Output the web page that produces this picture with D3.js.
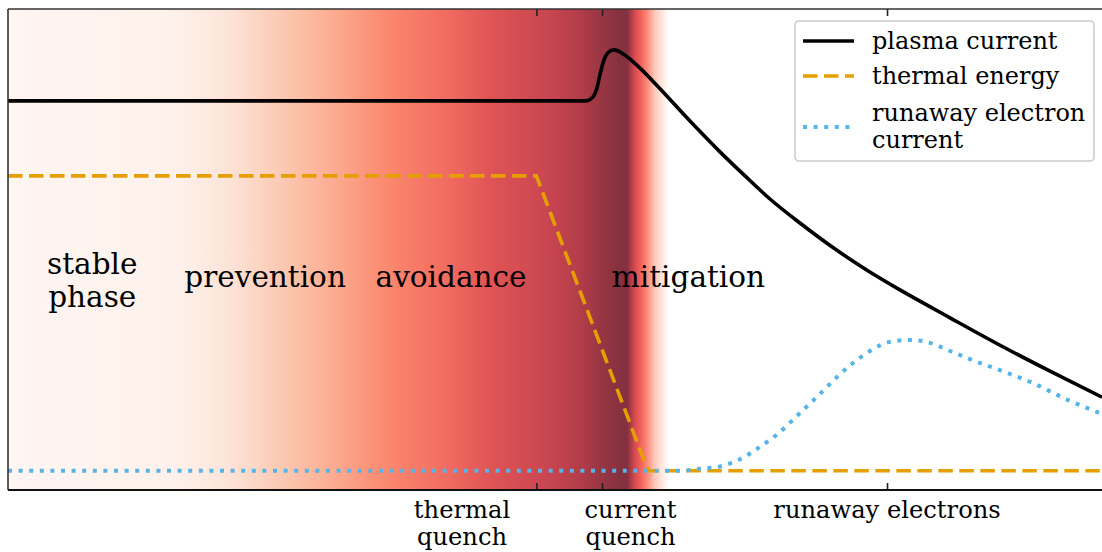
<!DOCTYPE html>
<html>
<head>
<meta charset="utf-8">
<script src="https://cdn.jsdelivr.net/npm/d3@7"></script>
<style>
  html, body { margin: 0; padding: 0; background: #fff; }
  svg { display: block; }
  text { font-family: "DejaVu Serif", serif; fill: #000; }
</style>
</head>
<body>
<svg id="chart" width="1102" height="552"></svg>
<script>
// Time axis runs 0..10 (arbitrary units); signals are normalised 0..1.
const plasmaT = [0, 5.283, 5.338, 5.384, 5.411, 5.448, 5.484, 5.539, 5.640, 5.777, 5.960, 6.234, 6.508, 6.737, 6.965, 7.239, 7.541, 7.852, 8.154, 8.611, 9.068, 9.525, 10.0];
const plasmaI = [0.809, 0.809, 0.815, 0.836, 0.863, 0.894, 0.909, 0.915, 0.904, 0.877, 0.834, 0.767, 0.703, 0.653, 0.605, 0.555, 0.504, 0.457, 0.416, 0.358, 0.301, 0.247, 0.193];

const thermalT = [0, 4.83, 5.85, 10.0];
const thermalW = [0.653, 0.653, 0.040, 0.040];

const runawayT = [0, 6.143, 6.325, 6.508, 6.691, 6.856, 7.011, 7.239, 7.441, 7.578, 7.724, 7.879, 8.062, 8.245, 8.428, 8.611, 8.793, 9.068, 9.342, 9.689, 10.0];
const runawayI = [0.040, 0.040, 0.044, 0.049, 0.064, 0.087, 0.112, 0.160, 0.204, 0.235, 0.264, 0.289, 0.308, 0.312, 0.306, 0.289, 0.272, 0.249, 0.225, 0.187, 0.158];

// Event ticks and their labels
const tickTimes = [4.83, 5.43, 8.035];
const tickLabels = [["thermal", "quench"], ["current", "quench"], ["runaway electrons"]];
const tickLabelTimes = [4.15, 5.69, 8.035];

// Phase labels across the shaded band
const phaseLabels = [["stable", "phase"], ["prevention"], ["avoidance"], ["mitigation"]];
const phaseTimes = [0.77, 2.35, 4.05, 6.22];
const phaseLevels = [0.437, 0.443, 0.443, 0.443];

// Background colour band along time
const bandTimes = [0, 1.55, 2.03, 2.30, 2.67, 3.03, 3.31, 3.58, 4.04, 4.40, 4.95, 5.23, 5.41, 5.59, 5.66, 5.73, 5.78, 5.85, 5.91, 6.00, 6.05];
const bandColors = ["#fff5f1", "#fef1eb", "#fde3d7", "#fcd4c2", "#fcbfa6", "#fca88d", "#fb9378", "#f9826a", "#f06a60", "#e05555", "#c84550", "#b23d48", "#9a3644", "#86313f", "#84303f", "#d84a50", "#f06058", "#fc9080", "#fdc8b8", "#fff0ea", "#ffffff"];

const legendNames = [["plasma current"], ["thermal energy"], ["runaway electron", "current"]];

const W = 1102, H = 552;
const plot = { left: 8, top: 9, right: 1102, bottom: 490 };

const svg = d3.select("#chart");
const x = d3.scaleLinear().domain([0, 10]).range([plot.left, plot.right]);
const y = d3.scaleLinear().domain([0, 1]).range([plot.bottom, plot.top]);

const defs = svg.append("defs");
const span = bandTimes[bandTimes.length - 1];
const grad = defs.append("linearGradient")
  .attr("id", "phaseBand")
  .attr("gradientUnits", "userSpaceOnUse")
  .attr("x1", x(0)).attr("x2", x(span))
  .attr("y1", 0).attr("y2", 0);
grad.selectAll("stop").data(bandTimes).join("stop")
  .attr("offset", d => d / span)
  .attr("stop-color", (d, i) => bandColors[i]);

defs.append("clipPath").attr("id", "plotClip")
  .append("rect")
  .attr("x", plot.left).attr("y", plot.top)
  .attr("width", plot.right - plot.left).attr("height", plot.bottom - plot.top);

// shaded band
svg.append("rect")
  .attr("x", x(0)).attr("y", y(1))
  .attr("width", x(span) - x(0)).attr("height", y(0) - y(1))
  .attr("fill", "url(#phaseBand)");

// phase labels
const fsPhase = 29.5;
phaseLabels.forEach((lines, i) => {
  const t = svg.append("text")
    .attr("text-anchor", "middle")
    .attr("font-size", fsPhase);
  const n = lines.length;
  lines.forEach((s, k) => {
    t.append("tspan")
      .attr("x", x(phaseTimes[i]))
      .attr("y", y(phaseLevels[i]) + (k - (n - 1) / 2) * 33 + fsPhase * 0.35)
      .text(s);
  });
});

// signals
const g = svg.append("g").attr("clip-path", "url(#plotClip)");
const line = d3.line().x(d => x(d[0])).y(d => y(d[1]));

const series = [
  { t: plasmaT, v: plasmaI, color: "#000000", width: 3.6, dash: null, curve: d3.curveMonotoneX },
  { t: thermalT, v: thermalW, color: "#e69f00", width: 3.6, dash: "14.5,6.5", curve: d3.curveLinear },
  { t: runawayT, v: runawayI, color: "#56b4e9", width: 4, dash: "4,6.6", curve: d3.curveMonotoneX }
];
series.forEach(s => {
  const pts = s.t.map((t, i) => [t, s.v[i]]);
  g.append("path")
    .attr("d", line.curve(s.curve)(pts))
    .attr("fill", "none")
    .attr("stroke", s.color)
    .attr("stroke-width", s.width)
    .attr("stroke-dasharray", s.dash);
});

// axes: inward ticks on bottom and top, no numeric labels
const axBottom = d3.axisBottom(x).tickValues(tickTimes).tickSize(-7).tickFormat("");
const axTop = d3.axisTop(x).tickValues(tickTimes).tickSize(-7).tickFormat("");
const gb = svg.append("g").attr("transform", `translate(0,${plot.bottom})`).call(axBottom);
const gt = svg.append("g").attr("transform", `translate(0,${plot.top})`).call(axTop);
[gb, gt].forEach(a => {
  a.select(".domain").remove();
  a.selectAll(".tick line").attr("stroke", "#222").attr("stroke-width", 1.6);
});

// spines
svg.append("line").attr("x1", plot.left).attr("x2", W).attr("y1", plot.bottom).attr("y2", plot.bottom)
  .attr("stroke", "#111").attr("stroke-width", 1.8);
svg.append("line").attr("x1", plot.left).attr("x2", W).attr("y1", plot.top).attr("y2", plot.top)
  .attr("stroke", "#333").attr("stroke-width", 1.6);
svg.append("line").attr("x1", plot.left).attr("x2", plot.left).attr("y1", plot.top).attr("y2", plot.bottom)
  .attr("stroke", "#333").attr("stroke-width", 1.6);

// tick labels
const fsTick = 24.2;
tickLabels.forEach((lines, i) => {
  const t = svg.append("text").attr("text-anchor", "middle").attr("font-size", fsTick);
  lines.forEach((s, k) => {
    t.append("tspan").attr("x", x(tickLabelTimes[i])).attr("y", 518 + k * 27).text(s);
  });
});

// legend
const leg = svg.append("g").attr("transform", "translate(795,21)");
leg.append("rect")
  .attr("width", 299).attr("height", 140)
  .attr("rx", 4).attr("ry", 4)
  .attr("fill", "#fff").attr("fill-opacity", 0.8)
  .attr("stroke", "#cccccc").attr("stroke-width", 1.6);
const legY = [20, 55, 106];
const fsLeg = 24;
series.forEach((s, i) => {
  leg.append("line")
    .attr("x1", 8).attr("x2", 59)
    .attr("y1", legY[i]).attr("y2", legY[i])
    .attr("stroke", s.color).attr("stroke-width", s.width)
    .attr("stroke-dasharray", s.dash);
  const names = legendNames[i];
  const t = leg.append("text").attr("font-size", fsLeg);
  names.forEach((nm, k) => {
    t.append("tspan")
      .attr("x", 77)
      .attr("y", legY[i] + fsLeg * 0.33 + (k - (names.length - 1) / 2) * 27)
      .text(nm);
  });
});
</script>
</body>
</html>
